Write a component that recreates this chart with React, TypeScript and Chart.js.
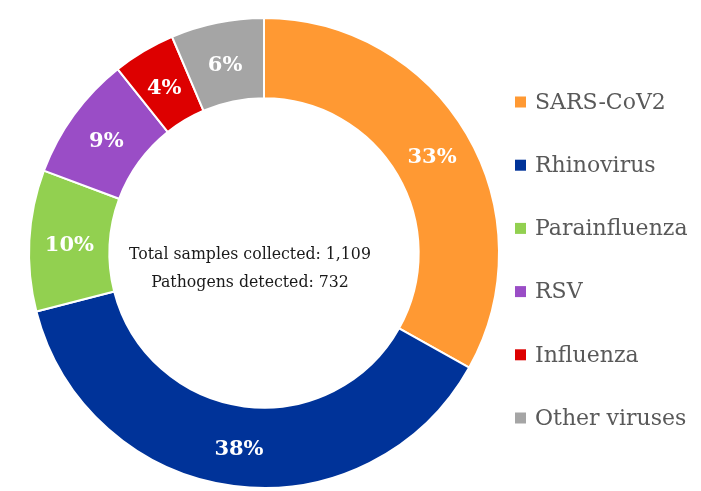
import React, { useEffect, useRef } from "react";
import { Chart, registerables } from "chart.js";

Chart.register(...registerables);

const categories = ["SARS-CoV2", "Rhinovirus", "Parainfluenza", "RSV", "Influenza", "Other viruses"];
const shares = [33.1, 37.9, 9.7, 8.6, 4.3, 6.4];
const sliceColors = ["#FF9933", "#003399", "#92D050", "#9A4DC6", "#DD0000", "#A5A5A5"];
const centerLines = ["Total samples collected: 1,109", "Pathogens detected: 732"];

const sliceLabelPlugin = {
  id: "sliceLabels",
  afterDatasetsDraw(chart: any) {
    const ctx = chart.ctx;
    const meta = chart.getDatasetMeta(0);
    ctx.save();
    ctx.fillStyle = "#ffffff";
    ctx.font = "bold 21px 'DejaVu Serif'";
    ctx.textAlign = "center";
    ctx.textBaseline = "middle";
    meta.data.forEach((arc: any, i: number) => {
      const p = arc.tooltipPosition();
      ctx.fillText(Math.round(shares[i]) + "%", p.x, p.y + 3);
    });
    ctx.restore();
  },
};

const centerTextPlugin = {
  id: "centerText",
  afterDraw(chart: any) {
    const ctx = chart.ctx;
    const arc = chart.getDatasetMeta(0).data[0];
    if (!arc) return;
    const cx = arc.x - 14;
    const cy = arc.y;
    ctx.save();
    ctx.fillStyle = "#1a1a1a";
    ctx.font = "17.5px 'DejaVu Serif Condensed'";
    ctx.textAlign = "center";
    ctx.textBaseline = "middle";
    ctx.fillText(centerLines[0], cx, cy + 1);
    ctx.fillText(centerLines[1], cx, cy + 29);
    ctx.restore();
  },
};

const sideLegendPlugin = {
  id: "sideLegend",
  afterDraw(chart: any) {
    const ctx = chart.ctx;
    const labels = chart.data.labels as string[];
    const colors = chart.data.datasets[0].backgroundColor as string[];
    const x0 = 515;
    const y0 = 102;
    const step = 63.2;
    const box = 11;
    ctx.save();
    ctx.font = "22px 'DejaVu Serif'";
    ctx.textAlign = "left";
    ctx.textBaseline = "middle";
    labels.forEach((lab, i) => {
      const y = y0 + i * step;
      ctx.fillStyle = colors[i];
      ctx.fillRect(x0, y - box / 2, box, box);
      ctx.fillStyle = "#595959";
      ctx.fillText(lab, x0 + 20, y + 1);
    });
    ctx.restore();
  },
};

export default function App() {
  const ref = useRef<HTMLCanvasElement | null>(null);
  useEffect(() => {
    if (!ref.current) return;
    const chart = new Chart(ref.current, {
      type: "doughnut",
      data: {
        labels: categories,
        datasets: [
          {
            data: shares,
            backgroundColor: sliceColors,
            borderColor: "#ffffff",
            borderWidth: 2,
            hoverOffset: 0,
          },
        ],
      },
      options: {
        animation: false,
        responsive: false,
        maintainAspectRatio: false,
        radius: 235,
        cutout: 156,
        layout: { padding: { left: 20, right: 193, top: 15, bottom: 0 } },
        plugins: {
          legend: { display: false },
          tooltip: { enabled: false },
        },
      } as any,
      plugins: [sliceLabelPlugin, centerTextPlugin, sideLegendPlugin],
    });
    return () => chart.destroy();
  }, []);
  return (
    <div style={{ position: "fixed", left: 0, top: 0, width: 701, height: 491, background: "#fff" }}>
      <canvas ref={ref} width={701} height={491} style={{ width: 701, height: 491 }} />
    </div>
  );
}
